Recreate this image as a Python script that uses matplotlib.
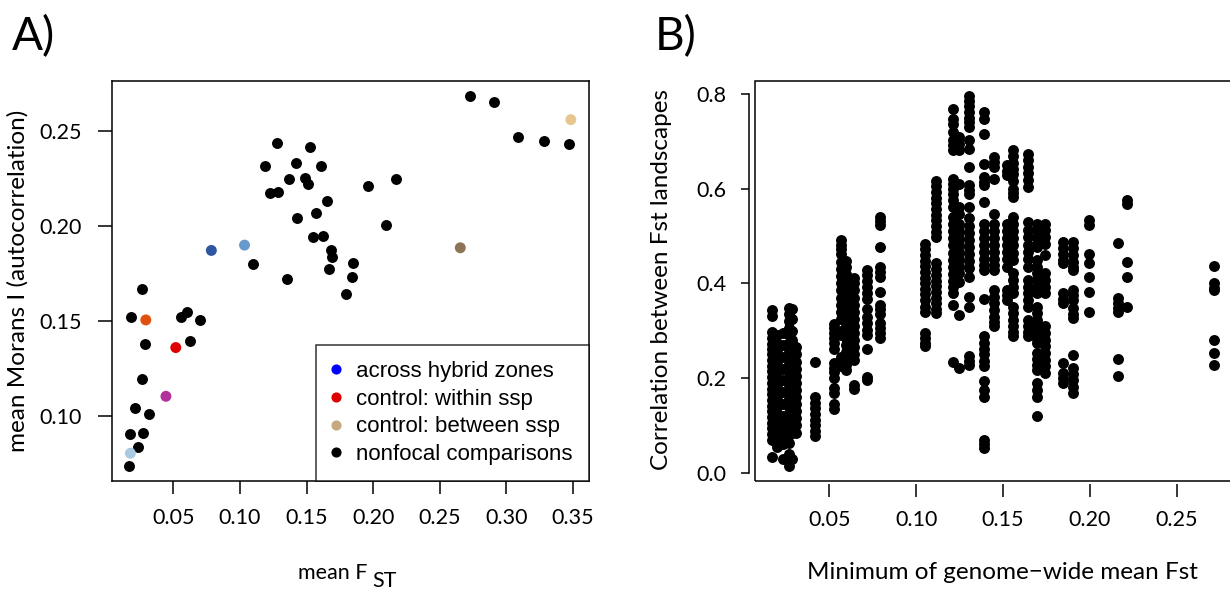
import numpy as np
import matplotlib
matplotlib.use('Agg')
import matplotlib.pyplot as plt
from matplotlib.lines import Line2D
from matplotlib.patches import Rectangle

plt.rcParams['font.family'] = ['Lato', 'DejaVu Sans']

# ---------------- Panel A data ----------------
a_black_x = [0.2728, 0.2909, 0.3087, 0.3286, 0.3472,
             0.1276, 0.1528, 0.1190, 0.1419, 0.1612,
             0.1368, 0.1490, 0.1514, 0.1223, 0.1288,
             0.1961, 0.2172, 0.1650, 0.1567, 0.1428,
             0.2097, 0.1546, 0.1620, 0.1680, 0.1694,
             0.1665, 0.1848, 0.1840, 0.1796, 0.1356,
             0.1096, 0.0266, 0.0180, 0.0560, 0.0601,
             0.0702, 0.0290, 0.0628, 0.0266, 0.0210,
             0.0319, 0.0174, 0.0275, 0.0234, 0.0168]
a_black_y = [0.2683, 0.2649, 0.2466, 0.2444, 0.2431,
             0.2435, 0.2413, 0.2313, 0.2329, 0.2312,
             0.2246, 0.2250, 0.2218, 0.2175, 0.2179,
             0.2212, 0.2244, 0.2129, 0.2069, 0.2040,
             0.2002, 0.1944, 0.1948, 0.1871, 0.1837,
             0.1774, 0.1806, 0.1734, 0.1643, 0.1720,
             0.1798, 0.1669, 0.1522, 0.1522, 0.1548,
             0.1506, 0.1381, 0.1393, 0.1196, 0.1042,
             0.1012, 0.0907, 0.0913, 0.0841, 0.0738]
a_focal_x = [0.0785, 0.1034, 0.0177, 0.0293, 0.0518, 0.0444, 0.2654, 0.3484]
a_focal_y = [0.1871, 0.1899, 0.0806, 0.1506, 0.1361, 0.1105, 0.1885, 0.2558]
a_focal_colors = ['#2F56A0', '#6699CC', '#A8CAE2', '#E0510F', '#E00000',
                  '#B3309A', '#8C7456', '#E8C690']
legend_labels = ['across hybrid zones', 'control: within ssp',
                 'control: between ssp', 'nonfocal comparisons']
legend_colors = ['#0000FF', '#E00000', '#C6A97E', '#000000']

# ---------------- Panel B data (columns of points) ----------------
b_col_x = [0.0170, 0.0200, 0.0230, 0.0265, 0.0285, 0.0310,
           0.0415, 0.0525, 0.0565, 0.0595, 0.0640, 0.0715, 0.0793,
           0.1052, 0.1116, 0.1213, 0.1246, 0.1304, 0.1390, 0.1446,
           0.1522, 0.1560, 0.1641, 0.1696, 0.1740, 0.1848, 0.1902,
           0.1996, 0.2163, 0.2213, 0.2717]
b_0170 = [0.343, 0.331, 0.297, 0.285, 0.273, 0.262, 0.250, 0.238, 0.226, 0.214,
          0.202, 0.190, 0.178, 0.166, 0.154, 0.142, 0.130, 0.118, 0.106, 0.094,
          0.082, 0.070, 0.033]
b_0200 = [0.290, 0.275, 0.260, 0.245, 0.230, 0.215, 0.200, 0.185, 0.170, 0.155,
          0.140, 0.125, 0.110, 0.095, 0.080, 0.067, 0.055]
b_0230 = [0.295, 0.270, 0.245, 0.220, 0.195, 0.170, 0.145, 0.120, 0.100, 0.080,
          0.060, 0.030]
b_0265 = [0.347, 0.335, 0.320, 0.305, 0.290, 0.275, 0.260, 0.245, 0.230, 0.215,
          0.200, 0.185, 0.170, 0.155, 0.140, 0.125, 0.110, 0.095, 0.080, 0.062,
          0.040, 0.014]
b_0285 = [0.345, 0.325, 0.300, 0.280, 0.260, 0.240, 0.220, 0.200, 0.180, 0.160,
          0.140, 0.120, 0.100, 0.085, 0.030]
b_0310 = [0.265, 0.250, 0.235, 0.220, 0.205, 0.190, 0.175, 0.160, 0.145, 0.130,
          0.115, 0.100, 0.085]
b_0415 = [0.233, 0.160, 0.148, 0.136, 0.124, 0.112, 0.100, 0.088, 0.078]
b_0525 = [0.315, 0.305, 0.295, 0.285, 0.275, 0.262, 0.232, 0.222, 0.212, 0.200,
          0.180, 0.168, 0.145, 0.135]
b_0565 = [0.492, 0.482, 0.472, 0.462, 0.445, 0.430, 0.415, 0.400, 0.385, 0.370,
          0.355, 0.340, 0.325, 0.300, 0.290, 0.245, 0.235, 0.225]
b_0595 = [0.448, 0.435, 0.420, 0.405, 0.390, 0.375, 0.360, 0.345, 0.330, 0.315,
          0.300, 0.285, 0.270, 0.255, 0.240, 0.228, 0.218]
b_0640 = [0.412, 0.400, 0.385, 0.370, 0.355, 0.340, 0.325, 0.310, 0.295, 0.280,
          0.265, 0.250, 0.238, 0.185, 0.178]
b_0715 = [0.428, 0.418, 0.405, 0.392, 0.380, 0.368, 0.345, 0.330, 0.316, 0.302,
          0.290, 0.262, 0.203, 0.195]
b_0793 = [0.540, 0.532, 0.523, 0.477, 0.435, 0.425, 0.414, 0.382, 0.355, 0.345,
          0.335, 0.316, 0.305, 0.295, 0.284]
b_1052 = [0.484, 0.472, 0.460, 0.448, 0.436, 0.424, 0.412, 0.400, 0.388, 0.378,
          0.365, 0.350, 0.340, 0.295, 0.285, 0.275, 0.267]
b_1116 = [0.617, 0.605, 0.593, 0.581, 0.569, 0.557, 0.545, 0.533, 0.521, 0.509,
          0.497, 0.442, 0.430, 0.418, 0.406, 0.394, 0.382, 0.370, 0.358, 0.346,
          0.337]
b_1213 = [0.768, 0.747, 0.737, 0.719, 0.702, 0.692, 0.681, 0.621, 0.610, 0.599,
          0.589, 0.575, 0.561, 0.540, 0.525, 0.510, 0.495, 0.480, 0.465, 0.450,
          0.435, 0.420, 0.405, 0.392, 0.379, 0.354, 0.235]
b_1246 = [0.709, 0.695, 0.681, 0.610, 0.561, 0.547, 0.526, 0.511, 0.496, 0.481,
          0.466, 0.451, 0.436, 0.421, 0.403, 0.333, 0.221]
b_1304 = [0.796, 0.785, 0.775, 0.761, 0.750, 0.740, 0.730, 0.702, 0.684, 0.646,
          0.607, 0.597, 0.589, 0.561, 0.537, 0.522, 0.507, 0.492, 0.477, 0.462,
          0.447, 0.432, 0.414, 0.372, 0.351, 0.246, 0.236, 0.228]
b_1390 = [0.761, 0.747, 0.716, 0.653, 0.625, 0.615, 0.607, 0.572, 0.526, 0.511,
          0.496, 0.481, 0.466, 0.451, 0.438, 0.428, 0.368, 0.288, 0.275, 0.262,
          0.250, 0.237, 0.225, 0.193, 0.175, 0.161, 0.070, 0.060, 0.053]
b_1446 = [0.667, 0.656, 0.646, 0.621, 0.547, 0.526, 0.511, 0.496, 0.481, 0.466,
          0.451, 0.438, 0.428, 0.386, 0.372, 0.358, 0.344, 0.330, 0.318, 0.309]
b_1522 = [0.649, 0.638, 0.628, 0.526, 0.511, 0.496, 0.481, 0.466, 0.451, 0.435,
          0.386, 0.375, 0.365]
b_1560 = [0.681, 0.668, 0.655, 0.642, 0.630, 0.617, 0.600, 0.591, 0.582, 0.540,
          0.525, 0.510, 0.495, 0.480, 0.465, 0.449, 0.421, 0.407, 0.393, 0.379,
          0.351, 0.337, 0.323, 0.309, 0.297, 0.288]
b_1641 = [0.674, 0.660, 0.646, 0.632, 0.618, 0.604, 0.530, 0.512, 0.497, 0.482,
          0.467, 0.452, 0.435, 0.407, 0.393, 0.379, 0.365, 0.351, 0.323, 0.310,
          0.298, 0.288]
b_1696 = [0.526, 0.512, 0.498, 0.484, 0.477, 0.449, 0.435, 0.421, 0.407, 0.393,
          0.379, 0.351, 0.337, 0.323, 0.309, 0.295, 0.283, 0.274, 0.253, 0.240,
          0.228, 0.218, 0.189, 0.175, 0.161, 0.119]
b_1740 = [0.526, 0.512, 0.498, 0.484, 0.460, 0.421, 0.407, 0.393, 0.379, 0.309,
          0.295, 0.281, 0.267, 0.253, 0.239, 0.225, 0.211]
b_1848 = [0.488, 0.475, 0.462, 0.450, 0.442, 0.379, 0.368, 0.358, 0.232, 0.211,
          0.200, 0.189]
b_1902 = [0.488, 0.474, 0.460, 0.446, 0.435, 0.428, 0.386, 0.375, 0.365, 0.347,
          0.336, 0.326, 0.249, 0.221, 0.208, 0.195, 0.182, 0.168]
b_1996 = [0.533, 0.523, 0.463, 0.442, 0.414, 0.382, 0.340]
b_2163 = [0.486, 0.369, 0.358, 0.348, 0.340, 0.241, 0.205]
b_2213 = [0.575, 0.568, 0.445, 0.414, 0.351]
b_2717 = [0.436, 0.400, 0.391, 0.386, 0.281, 0.253, 0.227]

b_cols = [b_0170, b_0200, b_0230, b_0265, b_0285, b_0310,
          b_0415, b_0525, b_0565, b_0595, b_0640, b_0715, b_0793,
          b_1052, b_1116, b_1213, b_1246, b_1304, b_1390, b_1446,
          b_1522, b_1560, b_1641, b_1696, b_1740, b_1848, b_1902,
          b_1996, b_2163, b_2213, b_2717]
b_x = np.concatenate([[x] * len(ys) for x, ys in zip(b_col_x, b_cols)])
b_y = np.concatenate([ys for ys in b_cols])

# ---------------- Figure ----------------
W, H = 1230, 592
fig = plt.figure(figsize=(W / 100, H / 100), dpi=100)

def px_rect(l, r, t, b):
    return [l / W, 1 - b / H, (r - l) / W, (b - t) / H]

DOT = 62
tick_fs = 15.5
lab_fs = 17.5

# ---- Panel A ----
axA = fig.add_axes(px_rect(111.5, 588.5, 81, 481))
axA.scatter(a_black_x, a_black_y, s=DOT, color='black', linewidths=0, zorder=3)
axA.scatter(a_focal_x, a_focal_y, s=DOT, c=a_focal_colors, linewidths=0, zorder=3)
axA.margins(0.04)
axA.set_xticks([0.05, 0.10, 0.15, 0.20, 0.25, 0.30, 0.35])
axA.set_xticklabels(['0.05', '0.10', '0.15', '0.20', '0.25', '0.30', '0.35'])
axA.set_yticks([0.10, 0.15, 0.20, 0.25])
axA.set_yticklabels(['0.10', '0.15', '0.20', '0.25'])
axA.tick_params(axis='x', length=9.5, width=1.1, pad=10, labelsize=tick_fs)
axA.tick_params(axis='y', length=10, width=1.1, pad=11.5, labelsize=tick_fs)
for sp in axA.spines.values():
    sp.set_linewidth(1.1)

handles = [Line2D([], [], marker='o', linestyle='none', markersize=7.3,
                  markerfacecolor=c, markeredgewidth=0) for c in legend_colors]
leg = axA.legend(handles, legend_labels, loc='lower right', bbox_to_anchor=(1, 0),
                 borderaxespad=0, frameon=True, fancybox=False, edgecolor='black',
                 prop={'family': 'Liberation Sans', 'size': 16},
                 borderpad=0.72, handlelength=0.35, handletextpad=0.72,
                 labelspacing=0.3)
leg.get_frame().set_linewidth(1.1)

fig.text(12 / W, 1 - 50 / H, 'A)', fontsize=33, ha='left', va='baseline')
fig.text(18 / W, 1 - 281 / H, 'mean Morans I (autocorrelation)', rotation=90,
         fontsize=lab_fs, ha='center', va='center')
fig.text(368 / W, 1 - 579 / H, 'mean F', fontsize=15.5, ha='right', va='baseline')
fig.text(372 / W, 1 - 587 / H, 'ST', fontsize=15.5, ha='left', va='baseline')

# ---- Panel B ----
axB = fig.add_axes(px_rect(754.5, 1232, 81, 481))
axB.scatter(b_x, b_y, s=DOT, color='black', linewidths=0, zorder=3)
axB.margins(0.04)
axB.set_xticks([0.05, 0.10, 0.15, 0.20, 0.25])
axB.set_xticklabels(['0.05', '0.10', '0.15', '0.20', '0.25'])
axB.set_yticks([0.0, 0.2, 0.4, 0.6, 0.8])
axB.set_yticklabels(['0.0', '0.2', '0.4', '0.6', '0.8'], rotation=90, va='center')
axB.tick_params(axis='x', length=9, width=1.1, pad=10, labelsize=tick_fs)
axB.tick_params(axis='y', length=6, width=1.1, pad=10, labelsize=tick_fs)
for name in ['top', 'right', 'bottom']:
    axB.spines[name].set_visible(False)
axB.spines['left'].set_position(('outward', 4))
axB.spines['left'].set_bounds(0.0, 0.8)
axB.spines['left'].set_linewidth(1.1)
axB.spines['bottom'].set_position(('outward', 2))
axB.add_patch(Rectangle((0, 0), 1, 1, transform=axB.transAxes, fill=False,
                        edgecolor='black', linewidth=1.1, clip_on=False, zorder=5))

fig.text(655 / W, 1 - 50 / H, 'B)', fontsize=33, ha='left', va='baseline')
fig.text(662 / W, 1 - 279 / H, 'Correlation between Fst landscapes', rotation=90,
         fontsize=lab_fs, ha='center', va='center')
fig.text(1002 / W, 1 - 579 / H, 'Minimum of genome\u2212wide mean Fst', fontsize=lab_fs,
         ha='center', va='baseline')

fig.savefig('out.png', dpi=100)
